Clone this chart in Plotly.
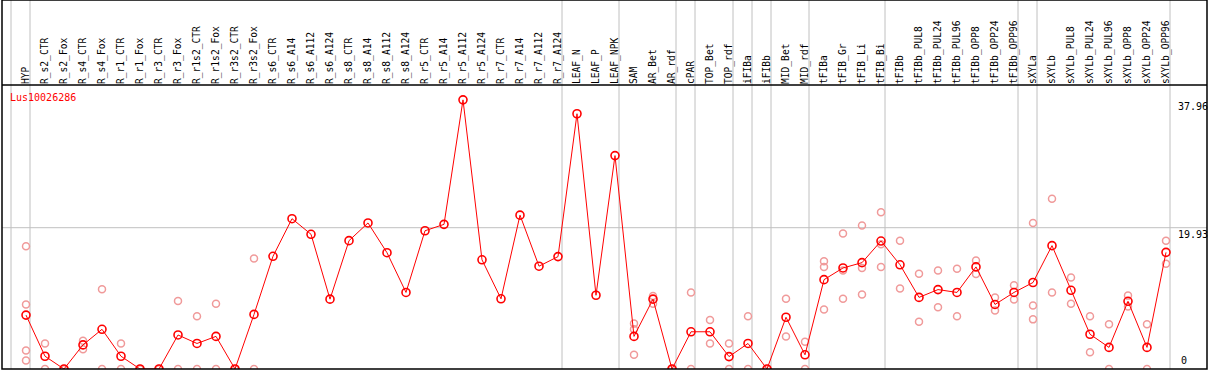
import plotly.graph_objects as go

gene_label = "Lus10026286"

categories = ["HYP", "R_s2_CTR", "R_s2_Fox", "R_s4_CTR", "R_s4_Fox", "R_r1_CTR", "R_r1_Fox",
              "R_r3_CTR", "R_r3_Fox", "R_r1s2_CTR", "R_r1s2_Fox", "R_r3s2_CTR", "R_r3s2_Fox",
              "R_s6_CTR", "R_s6_A14", "R_s6_A112", "R_s6_A124", "R_s8_CTR", "R_s8_A14", "R_s8_A112",
              "R_s8_A124", "R_r5_CTR", "R_r5_A14", "R_r5_A112", "R_r5_A124", "R_r7_CTR", "R_r7_A14",
              "R_r7_A112", "R_r7_A124", "LEAF_N", "LEAF_P", "LEAF_NPK", "SAM", "AR_Bet", "AR_rdf",
              "cPAR", "TOP_Bet", "TOP_rdf", "iFIBa", "iFIBb", "MID_Bet", "MID_rdf", "tFIBa",
              "tFIB_Gr", "tFIB_Li", "tFIB_Bi", "tFIBb", "tFIBb_PUL8", "tFIBb_PUL24", "tFIBb_PUL96",
              "tFIBb_OPP8", "tFIBb_OPP24", "tFIBb_OPP96", "sXYLa", "sXYLb", "sXYLb_PUL8",
              "sXYLb_PUL24", "sXYLb_PUL96", "sXYLb_OPP8", "sXYLb_OPP24", "sXYLb_OPP96"]

mean_values = [7.6, 1.8, 0.0, 3.4, 5.6, 1.8, 0.0, 0.0, 4.8, 3.6, 4.6, 0.0, 7.7,
               15.9, 21.2, 19.0, 9.85, 18.1, 20.6, 16.4, 10.8, 19.5, 20.4, 37.96, 15.4,
               9.9, 21.7, 14.5, 15.85, 36.0, 10.4, 30.1,
               4.6, 9.85, 0.0, 5.25, 5.25, 1.75, 3.6, 0.0, 7.3, 2.0,
               12.6, 14.25, 15.0, 18.05, 14.7, 10.1, 11.2, 10.8, 14.4, 9.1, 10.8,
               12.2, 17.4, 11.1, 4.9, 3.05, 9.55, 3.05, 16.45]

replicates = [
    [17.3, 9.1, 2.6, 1.2], [3.6, 0.0], [0.0, 0.0], [4.0, 2.8], [11.25, 0.0], [3.6, 0.0],
    [0.0, 0.0], [0.0, 0.0], [9.6, 0.0], [7.45, 0.0], [9.2, 0.0], [0.0, 0.0], [15.6, 0.0],
    [], [], [], [], [], [], [], [], [], [], [], [], [], [], [], [], [], [], [],
    [6.4, 5.6, 2.0], [10.3, 9.2], [0.0, 0.0], [10.8, 0.0], [6.9, 3.6], [3.6, 0.0],
    [7.45, 0.0], [0.0, 0.0], [9.9, 4.6], [3.85, 0.0],
    [15.2, 14.4, 8.4], [19.1, 13.9, 9.9], [20.25, 14.25, 10.5], [22.1, 17.6, 14.4],
    [18.1, 11.35], [13.45, 6.65], [13.9, 8.7], [14.15, 7.45], [15.3, 13.4], [10.1, 8.25],
    [11.8, 9.8], [20.6, 8.95, 7.0], [24.0, 10.8], [12.9, 9.2], [7.45, 2.35], [6.3, 0.0],
    [10.35, 8.8], [6.3, 0.0], [18.1, 14.85],
]

# category indices after which a group separator is drawn (-1 = before first)
separators_after = [-1, 0, 28, 31, 34, 35, 37, 38, 39, 41, 45, 52, 53, 60]

ref_values = [37.96, 19.93, 0]

idx = list(range(len(categories)))
rep_x, rep_y = [], []
for i, reps in enumerate(replicates):
    for v in reps:
        rep_x.append(i)
        rep_y.append(v)

W, H = 1209, 370
ML, MR, MT, MB = 2, 2, 85, 1
plot_h = H - MT - MB
px_per_unit = 7.09
ymax = plot_h / px_per_unit
x0 = -24 / 19
x1 = x0 + (W - ML - MR) / 19

fig = go.Figure()
fig.add_trace(go.Scatter(
    x=rep_x, y=rep_y, mode="markers",
    marker=dict(symbol="circle-open", size=7, color="#f09a9a", line=dict(width=1.5, color="#f09a9a")),
    hoverinfo="skip", showlegend=False))
fig.add_trace(go.Scatter(
    x=idx, y=mean_values, mode="lines+markers",
    line=dict(color="#ff0000", width=1),
    marker=dict(symbol="circle-open", size=8, color="#ff0000", line=dict(width=1.6, color="#ff0000")),
    showlegend=False))

top_paper = 1 + MT / plot_h
shapes = []
for s in separators_after:
    shapes.append(dict(type="line", xref="x", yref="paper", x0=s + 4 / 19, x1=s + 4 / 19,
                       y0=0, y1=top_paper, line=dict(color="#c0c0c0", width=1), layer="below"))
shapes.append(dict(type="line", xref="paper", yref="y", x0=0, x1=1, y0=ref_values[1], y1=ref_values[1],
                   line=dict(color="#c0c0c0", width=1), layer="below"))
shapes.append(dict(type="rect", xref="paper", yref="paper", x0=0, x1=1, y0=0, y1=top_paper,
                   line=dict(color="black", width=1.5)))
shapes.append(dict(type="line", xref="paper", yref="paper", x0=0, x1=1, y0=1, y1=1,
                   line=dict(color="black", width=1.5)))

mono = "DejaVu Sans Mono"
annotations = [
    dict(text=gene_label, xref="paper", yref="paper", x=(8 - ML) / (W - ML - MR), y=1,
         xanchor="left", yanchor="top", yshift=-5, showarrow=False,
         font=dict(family=mono, size=10, color="#ff0000")),
]
lab_x = (1176 - ML) / (W - ML - MR)
for v in ref_values:
    if v == 0:
        annotations.append(dict(text=str(v), xref="paper", yref="y", x=(1179 - ML) / (W - ML - MR), y=v,
                                xanchor="left", yanchor="bottom", yshift=1, showarrow=False,
                                font=dict(family=mono, size=10, color="black")))
    else:
        annotations.append(dict(text=f"{v:.2f}", xref="paper", yref="y", x=lab_x, y=v,
                                xanchor="left", yanchor="top", yshift=1, showarrow=False,
                                font=dict(family=mono, size=10, color="black")))

fig.update_layout(
    width=W, height=H,
    margin=dict(l=ML, r=MR, t=MT, b=MB, pad=0, autoexpand=False),
    paper_bgcolor="white", plot_bgcolor="white",
    shapes=shapes, annotations=annotations,
    xaxis=dict(range=[x0, x1], side="top", tickmode="array", tickvals=idx, ticktext=categories,
               tickangle=-90, tickfont=dict(family=mono, size=9.6, color="black"),
               showgrid=False, zeroline=False, ticks="", showline=False, fixedrange=True,
               automargin=False),
    yaxis=dict(range=[0, ymax], showgrid=False, zeroline=False, showticklabels=False,
               ticks="", showline=False, fixedrange=True, automargin=False),
)

fig.write_html("out.html", config={"displayModeBar": False},
               post_script="document.body.style.margin='0';document.body.style.overflow='hidden';")
